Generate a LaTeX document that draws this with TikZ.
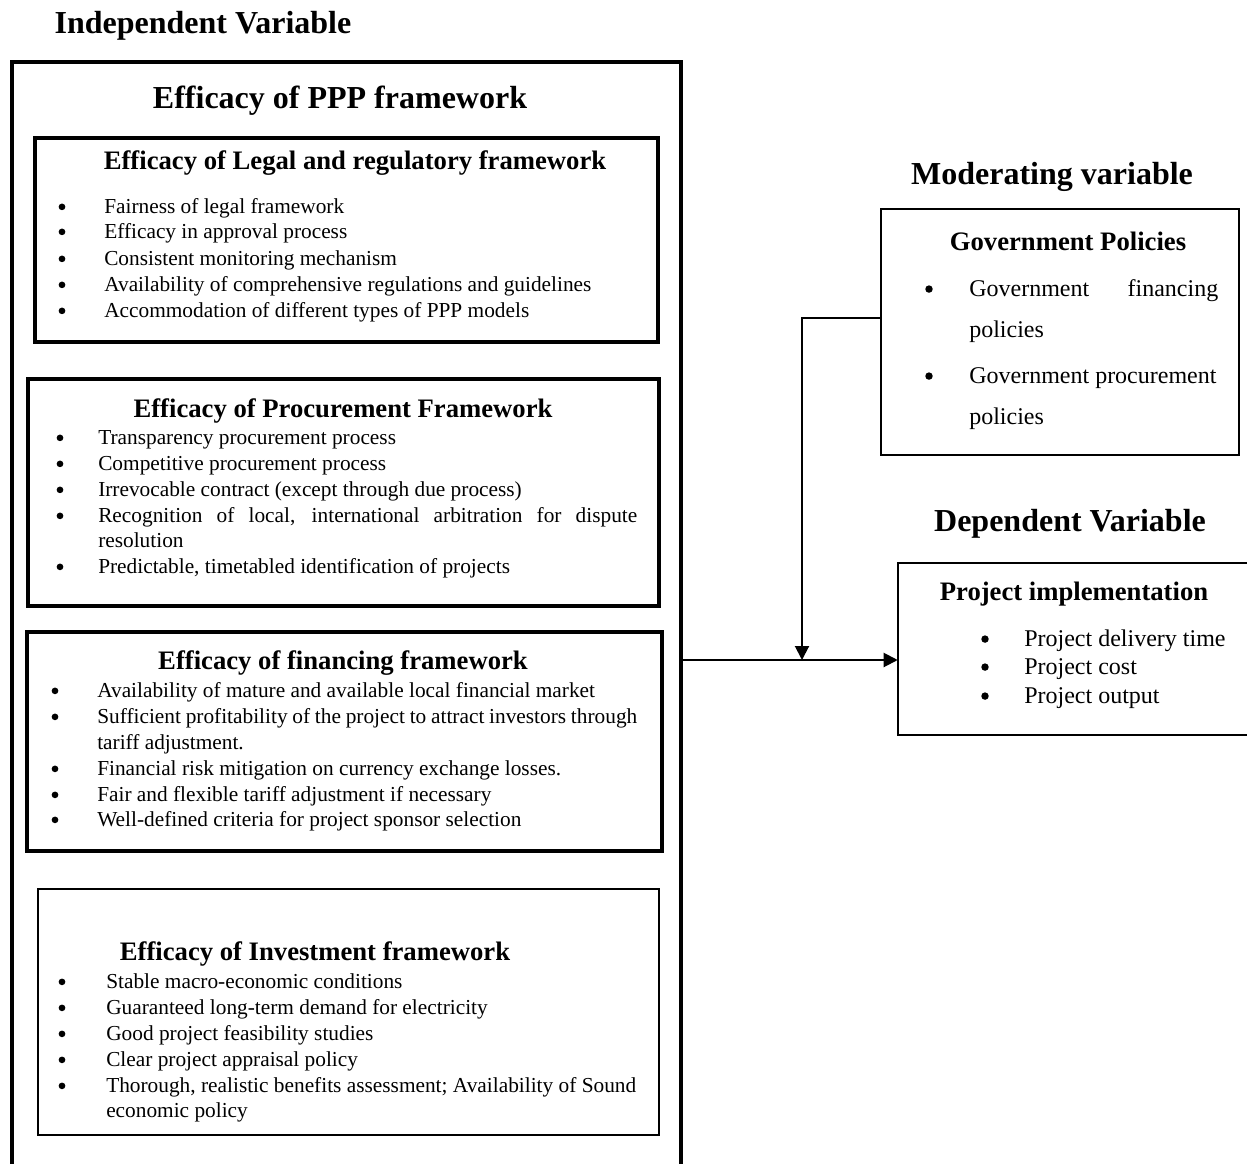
\documentclass[tikz,border=0pt]{standalone}
\usepackage{fontspec}
\setmainfont{Liberation Serif}
\usetikzlibrary{fit,arrows.meta}
\begin{document}
\begin{tikzpicture}[x=0.75pt,y=-0.75pt,
  title/.style={font=\fontsize{24}{28}\selectfont\bfseries, inner sep=0},
  sub/.style={font=\fontsize{20}{24}\selectfont\bfseries, inner sep=0},
  txt/.style={font=\fontsize{16}{19}\selectfont, inner sep=0, anchor=base west},
  bul/.style={circle, fill, inner sep=0, minimum size=5pt, yshift=4.6pt},
  rtxt/.style={font=\fontsize{18}{22}\selectfont, inner sep=0, anchor=base west},
  rbul/.style={circle, fill, inner sep=0, minimum size=5.6pt, yshift=5.2pt},
  thickbox/.style={draw, line width=3pt, inner sep=0},
  thinbox/.style={draw, line width=1.6pt, inner sep=0},
  conn/.style={line width=1.5pt},
  arr/.style={conn, -{Triangle[length=10.5pt,width=10.5pt]}}]
\useasboundingbox (0,0) rectangle (1247,1164);

% ---------- left side ----------
\node[title] (indep) at (203,26) {Independent Variable};
\node[fit={(12,62) (681,1172)}, inner sep=0] (outer) {};
\draw[line width=3pt] (outer.south west) -- (outer.north west) -- (outer.north east) -- (outer.south east);
\node[title] (ppp) at (340,101) {Efficacy of PPP framework};

% Legal
\node[thickbox, fit={(35,138) (658,342)}] (legal) {};
\node[sub] (legalh) at (355,163) {Efficacy of Legal and regulatory framework};
\foreach \y/\t [count=\i] in {
  213/{Fairness of legal framework},
  238/{Efficacy in approval process},
  265/{Consistent monitoring mechanism},
  291/{Availability of comprehensive regulations and guidelines},
  317/{Accommodation of different types of PPP models}} {
  \node[bul] (legb\i) at (62,\y) {};
  \node[txt] (legt\i) at (104,\y) {\t};
}

% Procurement
\node[thickbox, fit={(28,379) (659,606)}] (proc) {};
\node[sub] (proch) at (343,411) {Efficacy of Procurement Framework};
\foreach \y/\t [count=\i] in {
  444/{Transparency procurement process},
  470/{Competitive procurement process},
  496/{Irrevocable contract (except through due process)},
  522/{\makebox[404.25pt][s]{Recognition of local, international arbitration for dispute}},
  573/{Predictable, timetabled identification of projects}} {
  \node[bul] (procb\i) at (60,\y) {};
  \node[txt] (proct\i) at (98,\y) {\t};
}
\node[txt] (proct4b) at (98,547) {resolution};

% Financing
\node[thickbox, fit={(27,632) (662,851)}] (fin) {};
\node[sub] (finh) at (343,663) {Efficacy of financing framework};
\foreach \y/\t [count=\i] in {
  697/{Availability of mature and available local financial market},
  723/{\makebox[405pt][s]{Sufficient profitability of the project to attract investors through}},
  775/{Financial risk mitigation on currency exchange losses.},
  801/{Fair and flexible tariff adjustment if necessary},
  826/{Well-defined criteria for project sponsor selection}} {
  \node[bul] (finb\i) at (55,\y) {};
  \node[txt] (fint\i) at (97,\y) {\t};
}
\node[txt] (fint2b) at (97,749) {tariff adjustment.};

% Investment
\node[thinbox, fit={(38,889) (659,1135)}] (inv) {};
\node[sub] (invh) at (315,954) {Efficacy of Investment framework};
\foreach \y/\t [count=\i] in {
  988/{Stable macro-economic conditions},
  1014/{Guaranteed long-term demand for electricity},
  1040/{Good project feasibility studies},
  1066/{Clear project appraisal policy},
  1092/{\makebox[397.5pt][s]{Thorough, realistic benefits assessment; Availability of Sound}}} {
  \node[bul] (invb\i) at (62,\y) {};
  \node[txt] (invt\i) at (106,\y) {\t};
}
\node[txt] (invt5b) at (106,1117) {economic policy};

% ---------- right side ----------
\node[title] (modh) at (1052,177) {Moderating variable};
\node[thinbox, fit={(881,209) (1239,455)}] (gov) {};
\node[sub] (govh) at (1068,241) {Government Policies};
\node[rbul] (govb1) at (929,296) {};
\node[rtxt] (govt1) at (969,296) {\makebox[186.75pt][s]{Government financing}};
\node[rtxt] (govt1b) at (969,337) {policies};
\node[rbul] (govb2) at (929,383) {};
\node[rtxt] (govt2) at (969,383) {Government procurement};
\node[rtxt] (govt2b) at (969,424) {policies};

\node[title] (deph) at (1070,524) {Dependent Variable};
\node[fit={(898,563) (1252,735)}, inner sep=0] (proj) {};
\draw[line width=1.6pt] (proj.north east) -- (proj.north west) -- (proj.south west) -- (proj.south east);
\node[sub] (projh) at (1074,594) {Project implementation};
\foreach \y/\t [count=\i] in {646/{Project delivery time}, 674/{Project cost}, 703/{Project output}} {
  \node[rbul] (projb\i) at (985,\y) {};
  \node[rtxt] (projt\i) at (1024,\y) {\t};
}

% ---------- connectors ----------
\coordinate (mainy) at (0,660);
\coordinate (j) at (802,660);
\coordinate (mody) at (0,318);
\draw[arr] (outer.east |- mainy) -- (proj.west |- mainy);
\draw[arr] (gov.west |- mody) -| (j);
\end{tikzpicture}
\end{document}
